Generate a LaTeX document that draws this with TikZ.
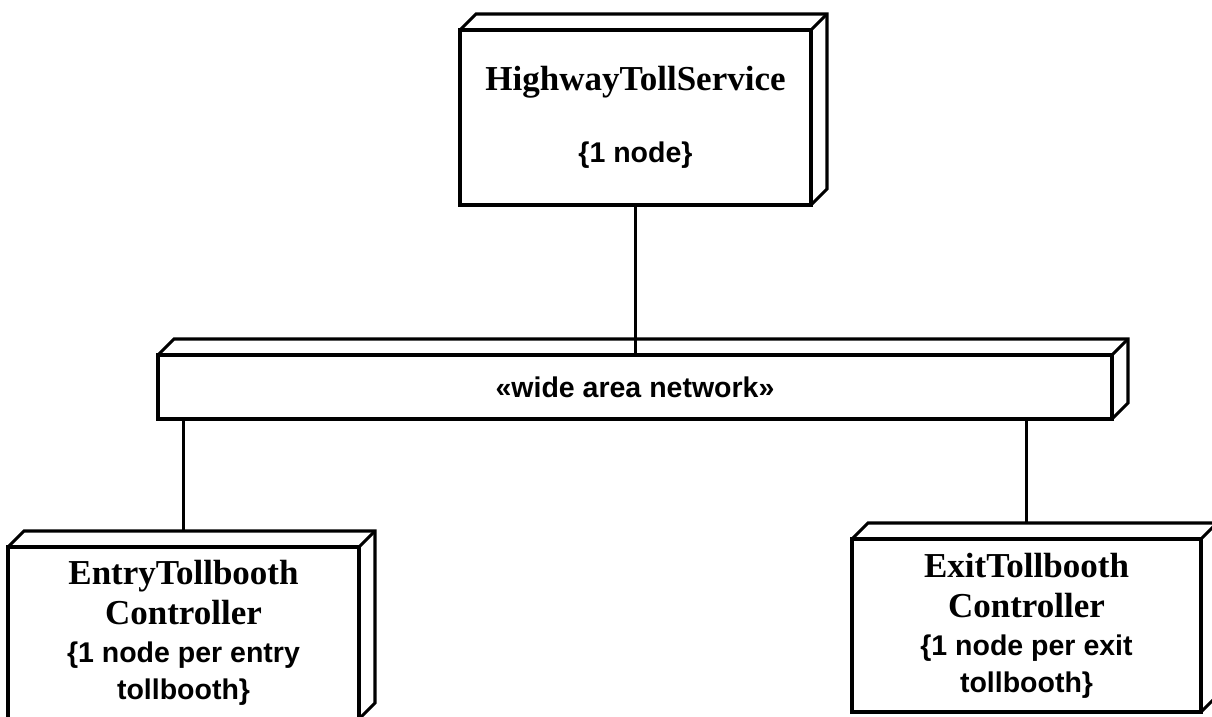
\documentclass[tikz,border=0pt]{standalone}
\usepackage{fontspec}
\setmainfont{Liberation Serif}
\newfontfamily\tagfamily{Liberation Sans}
\newcommand{\namefont}{\fontsize{35}{37}\selectfont\bfseries}
\newcommand{\tagfont}{\tagfamily\fontsize{28.5}{37}\selectfont\bfseries}

\begin{document}
\begin{tikzpicture}[x=1pt, y=1pt,
devicenode/.style={rectangle, draw=black, line width=3.1pt, fill=white, inner sep=0pt, outer sep=0pt, align=center, font=\namefont},
link/.style={draw=black, line width=3.1pt}
]
\useasboundingbox (0,0) rectangle (1212,717);

\node[devicenode, minimum width=351, minimum height=175] at (635.5, 599.5) (service) {HighwayTollService\\[35pt]\tagfont\{1 node\}};
\node[devicenode, minimum width=954, minimum height=64, font=\tagfont] at (635, 330) (wan) {«wide area network»};
\node[devicenode, minimum width=351, minimum height=172] at (183.5, 84) (entry) {EntryTollbooth\\[3pt]Controller\\[1pt]\tagfont\{1 node per entry\\\tagfont tollbooth\}};
\node[devicenode, minimum width=349, minimum height=173] at (1026.5, 91.5) (exit) {ExitTollbooth\\[3pt]Controller\\[1pt]\tagfont\{1 node per exit\\\tagfont tollbooth\}};

% top and side faces of every box
\foreach \n in {service, wan, entry, exit} {
  \draw[link] (\n.north west) -- ++(16,16) -- ([shift={(16,16)}]\n.north east) -- ([shift={(16,16)}]\n.south east) -- (\n.south east);
  \draw[link] (\n.north east) -- ++(16,16);
}

\draw[link] (service.south) -- (service.south |- wan.north);
\draw[link] (entry.north |- wan.south) -- ([yshift=16]entry.north);
\draw[link] (exit.north |- wan.south) -- ([yshift=16]exit.north);
\end{tikzpicture}
\end{document}
